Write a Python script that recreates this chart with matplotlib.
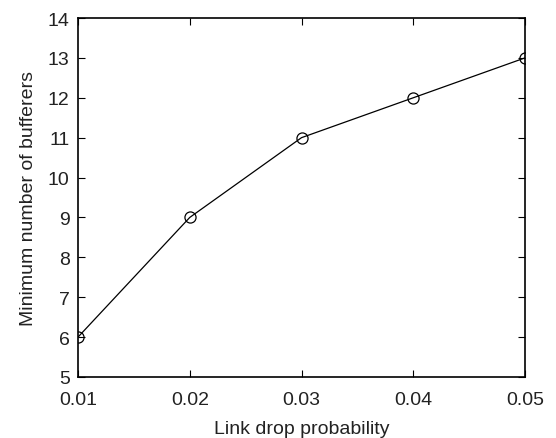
import matplotlib
matplotlib.use("Agg")
import matplotlib.pyplot as plt

plt.rcParams['font.family'] = ['Liberation Sans', 'DejaVu Sans']

x = [0.01, 0.02, 0.03, 0.04, 0.05]
y = [6, 9, 11, 12, 13]
xticks = [0.01, 0.02, 0.03, 0.04, 0.05]
xticklabels = ['0.01', '0.02', '0.03', '0.04', '0.05']
yticks = [5, 6, 7, 8, 9, 10, 11, 12, 13, 14]

txt = '#222222'
fig = plt.figure(figsize=(5.56, 4.39), dpi=100)
ax = fig.add_axes([78/556, (439-378)/439, (525-78)/556, (378-19)/439])
ax.plot(x, y, color='black', linewidth=0.9, marker='o', markersize=8,
        markerfacecolor='none', markeredgecolor='black', markeredgewidth=0.9)
ax.set_xlim(0.01, 0.05)
ax.set_ylim(5, 14)
ax.set_xticks(xticks)
ax.set_xticklabels(xticklabels)
ax.set_yticks(yticks)
ax.tick_params(direction='in', top=True, right=True, labelsize=14, length=5,
               width=0.8, labelcolor=txt)
ax.tick_params(axis='x', pad=10)
ax.tick_params(axis='y', pad=6)
for s in ax.spines.values():
    s.set_linewidth(1.2)
ax.set_xlabel('Link drop probability', fontsize=14, labelpad=9, color=txt)
ax.set_ylabel('Minimum number of bufferers', fontsize=14, labelpad=8, color=txt)
fig.savefig('out.png', dpi=100)
